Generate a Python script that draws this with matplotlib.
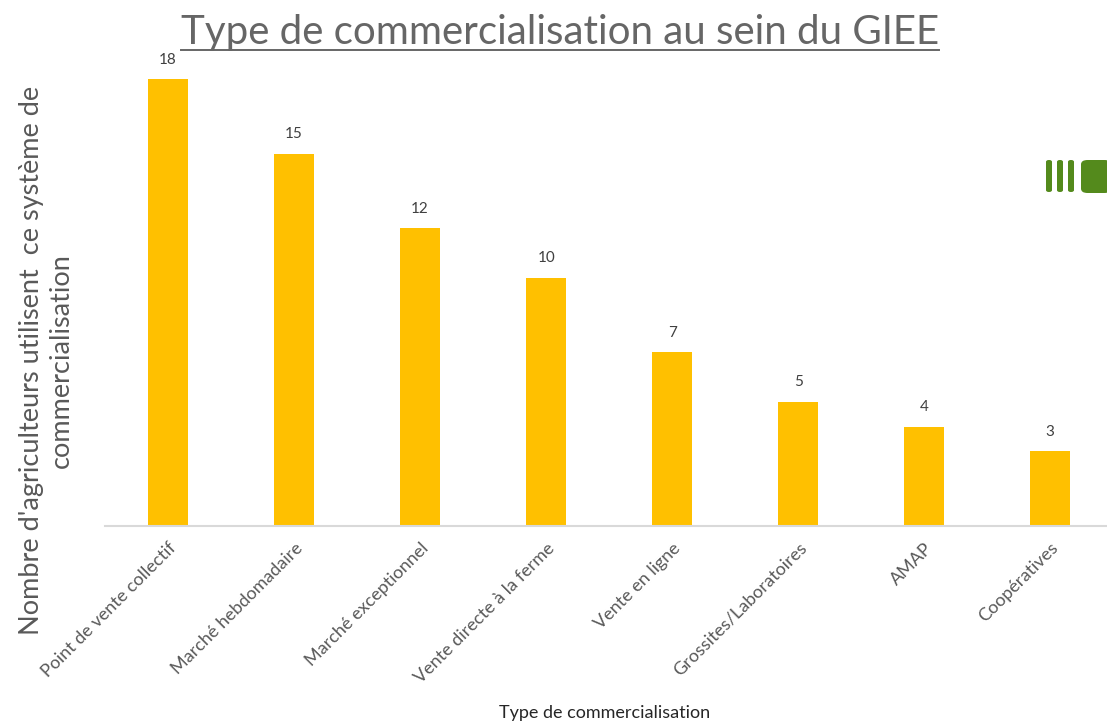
import matplotlib
matplotlib.use('Agg')
import matplotlib.pyplot as plt
from matplotlib.patches import FancyBboxPatch
from matplotlib.lines import Line2D

# data
categories = ['Point de vente collectif', 'Marché hebdomadaire', 'Marché exceptionnel',
              'Vente directe à la ferme', 'Vente en ligne', 'Grossites/Laboratoires',
              'AMAP', 'Coopératives']
counts = [18, 15, 12, 10, 7, 5, 4, 3]

gold = '#FFC000'
grey_txt = '#595959'
green = '#548A1C'

plt.rcParams['font.family'] = ['Lato', 'DejaVu Sans']

fig = plt.figure(figsize=(11.07, 7.25), dpi=100)
fig.patch.set_facecolor('white')
ax = fig.add_axes([0.0949, 0.2745, 0.9051, 0.685])

x = range(len(categories))
bars = ax.bar(x, counts, width=0.32, color=gold, zorder=2)
ax.set_xlim(-0.5, 7.45)
ax.set_ylim(0, 20)

for b, v in zip(bars, counts):
    ax.annotate(str(v), (b.get_x() + b.get_width() / 2, v), xytext=(0, 9),
                textcoords='offset points', ha='center', va='bottom',
                fontsize=11, color='#404040')

ax.set_xticks(list(x))
ax.set_xticklabels(categories, rotation=45, ha='right', rotation_mode='anchor',
                   fontsize=13, color=grey_txt)
ax.tick_params(axis='x', length=0, pad=10)
ax.set_yticks([])
for s in ['top', 'right', 'left']:
    ax.spines[s].set_visible(False)
ax.spines['bottom'].set_color('#D9D9D9')
ax.spines['bottom'].set_linewidth(1.5)

fig.text(0.546, 0.017, 'Type de commercialisation', ha='center', va='center',
         fontsize=13, color='#262626')

# y label (two lines)
fig.text(0.042, 0.503, "Nombre d'agriculteurs utilisent  ce système de\ncommercialisation",
         rotation=90, ha='center', va='center', fontsize=19.5, color=grey_txt,
         linespacing=1.2)

# title with underline
title = fig.text(0.506, 0.955, 'Type de commercialisation au sein du GIEE',
                 ha='center', va='center', fontsize=29, color='#666666')
fig.canvas.draw()
bb = title.get_window_extent().transformed(fig.transFigure.inverted())
fig.add_artist(Line2D([bb.x0, bb.x1], [bb.y0 + 0.002, bb.y0 + 0.002],
                      transform=fig.transFigure, color='#666666', lw=1.4))

# green decoration at the right
for xs in [1046, 1057, 1068]:
    fig.add_artist(FancyBboxPatch((xs / 1107, 1 - 192 / 725), 6 / 1107, 32 / 725,
                                  boxstyle='round,pad=0,rounding_size=0.0025',
                                  transform=fig.transFigure, facecolor=green,
                                  edgecolor='none'))
fig.add_artist(FancyBboxPatch((1081 / 1107, 1 - 193 / 725), 30 / 1107, 33 / 725,
                              boxstyle='round,pad=0,rounding_size=0.006',
                              transform=fig.transFigure, facecolor=green,
                              edgecolor='none'))

fig.savefig('out.png', dpi=100, facecolor='white')
